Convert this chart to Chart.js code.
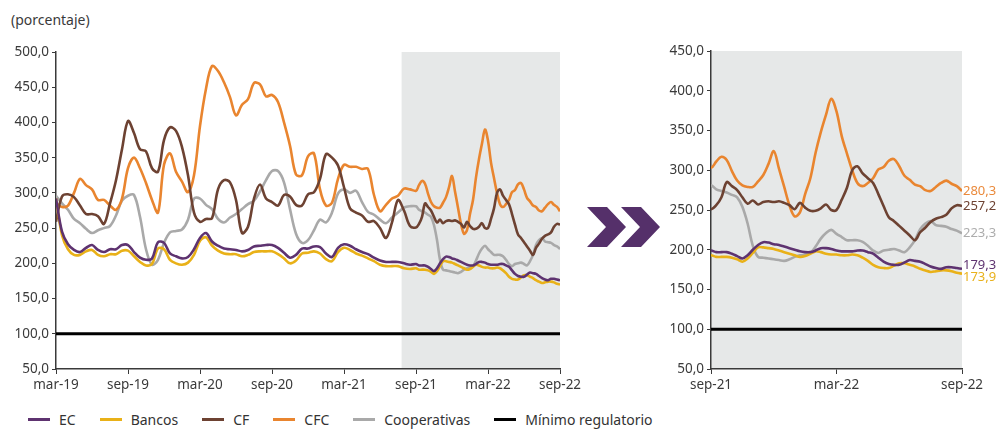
<!DOCTYPE html>
<html>
<head>
<meta charset="utf-8">
<script src="https://cdn.jsdelivr.net/npm/chart.js@4"></script>
<style>
  body { margin:0; width:997px; height:429px; background:#fff; position:relative; overflow:hidden; font-family:"Noto Sans", sans-serif; }
  #title { position:absolute; left:11px; top:10px; font-size:14px; color:#3a3a3a; }
  #leftBox { position:absolute; left:0; top:0; width:600px; height:400px; }
  #rightBox { position:absolute; left:650px; top:0; width:347px; height:400px; }
  #arrows { position:absolute; left:580px; top:200px; }
  #legend { position:absolute; left:28px; top:410px; display:flex; align-items:center; font-size:14px; color:#333; }
  .item { display:flex; align-items:center; margin-right:24px; }
  .swatch { width:22px; height:3.5px; margin-right:9px; }
</style>
</head>
<body>
<div id="title">(porcentaje)</div>
<div id="leftBox"><canvas id="leftChart"></canvas></div>
<div id="rightBox"><canvas id="rightChart"></canvas></div>
<svg id="arrows" width="90" height="60">
  <polygon points="7,7 27,7 46,27 27,47 7,47 26,27" fill="#55306a"/>
  <polygon points="41,7 61,7 80,27 61,47 41,47 60,27" fill="#55306a"/>
</svg>
<div id="legend"></div>
<script>
// months since mar-19 (half-monthly until ago-21, quarter-monthly afterwards)
const months = [0,0.5,1,1.5,2,2.5,3,3.5,4,4.5,5,5.5,6,6.5,7,7.5,8,8.5,9,9.5,10,10.5,11,11.5,12,12.5,13,13.5,14,14.5,15,15.5,16,16.5,17,17.5,18,18.5,19,19.5,20,20.5,21,21.5,22,22.5,23,23.5,24,24.5,25,25.5,26,26.5,27,27.5,28,28.5,29,29.5,
30,30.25,30.5,30.75,31,31.25,31.5,31.75,32,32.25,32.5,32.75,33,33.25,33.5,33.75,34,34.25,34.5,34.75,35,35.25,35.5,35.75,36,36.25,36.5,36.75,37,37.25,37.5,37.75,38,38.25,38.5,38.75,39,39.25,39.5,39.75,40,40.25,40.5,40.75,41,41.25,41.5,41.75,42];

const xTickLabelsLeft = ['mar-19','sep-19','mar-20','sep-20','mar-21','sep-21','mar-22','sep-22'];
const xTickLabelsRight = ['sep-21','mar-22','sep-22'];

const ec = [292,245,227,219,216,222,226,219,216,220,220,226,226,216,208,205,207,230,229,214,210,207,209,220,236,243,231,225,221,220,219,217,219,224,225,226,226,222,215,208,212,221,221,224,223,214,209,222,227,225,220,216,213,208,204,202,202,202,200,198,
199,197,197,197,195,192,189,193,200,206,209.5,209,207,206,204,202,200,198,197,197,199,202,202,201,199,198,198,198,199,199,197,195,190,185,182,181,181,184,187,186,185,182,179,177,176,178,178,177,176];

const bancos = [292,240,220,212,212,217,219,212,210,213,213,218,218,210,202,197,199,221,220,205,200,198,201,212,232,237,225,218,214,213,213,210,212,216,217,217,217,213,207,200,204,214,215,217,214,206,203,216,222,219,214,211,207,203,198,196,196,196,193,192,
193,191,191,191,190,188,185,189,196,203,203,202,201,199,197,195,193,191,192,195,198,197,195,194,194,193,193,194,193,190,186,181,178,177,177,180,183,183,181,179,176,174,172,173,174,174,173,171,170];

const cf = [259,295,298,294,282,270,270,267,256,285,318,362,402,385,362,359,335,330,375,393,388,365,325,272,259,263,264,305,318,315,290,243,252,292,312,292,287,282,297,295,283,282,298,301,320,355,350,339,308,278,272,268,259,260,250,236,258,290,275,253,
251,256,266,285,280,275,266,258,262,257,260,261,260,261,259,256,251,259,253,249,249,252,257,250,250,263,278,300,305,296,290,284,270,255,241,236,230,224,218,212,222,228,235,239,241,244,252,256,255];

const cfc = [285,280,282,300,320,311,305,290,290,282,276,292,335,350,335,314,290,272,340,356,330,316,301,325,395,448,480,473,457,436,410,425,433,456,454,437,439,429,400,367,326,325,352,356,305,282,286,320,340,337,337,334,334,297,274,283,292,296,306,305,
303,311,317,313,299,287,281,279,279,286,294,308,324,302,279,256,242,247,270,290,322,348,370,390,374,343,321,300,284,280,284,290,301,304,312,314,305,293,288,282,280,275,274,279,284,287,283,280,274];

const cooperativas = [296,285,276,263,257,249,243,247,250,253,268,289,296,297,266,220,198,205,229,244,246,248,262,292,292,283,277,263,258,265,270,277,284,289,302,318,331,331,315,277,242,229,233,247,262,258,272,299,305,300,303,287,273,269,262,257,265,272,279,281,
281,276,274,272,269,266,254,233,205,191,190,189,188,187,186,188,191,193,194,196,204,214,221,225,220,216,212,212,212,210,205,199,196,199,200,201,199,197,203,212,226,233,236,231,230,229,226,224,220.5];

const minimoRegulatorio = 100;
const seriesNames = ['EC','Bancos','CF','CFC','Cooperativas','Mínimo regulatorio'];
const endLabels = ['179,3','173,9','257,2','280,3','223,3'];
const shadeStartMonth = 28.8;

const colors = ['#5e3370','#e9b118','#6d4232','#e9852f','#a9a9a9','#000000'];
const labelColors = ['#5e3370','#e9b11c','#6d4232','#ea8a3c','#adadad'];
const seriesValues = [ec, bancos, cf, cfc, cooperativas];

function makeDatasets(xMin, xMax) {
  const ds = seriesValues.map((vals, i) => ({
    label: seriesNames[i],
    data: months.map((m, j) => ({x: m, y: vals[j]})),
    borderColor: colors[i],
    borderWidth: 2.6,
    pointRadius: 0,
    tension: 0.35,
    fill: false
  }));
  ds.push({
    label: seriesNames[5],
    data: [{x: xMin, y: minimoRegulatorio}, {x: xMax, y: minimoRegulatorio}],
    borderColor: colors[5],
    borderWidth: 3,
    pointRadius: 0,
    tension: 0,
    fill: false
  });
  return ds;
}

const fmt = v => v.toFixed(1).replace('.', ',');
const tickFont = {family: '"Noto Sans", sans-serif', size: 13.5};
const axisColor = '#3a3a3a';

const shadePlugin = {
  id: 'shade',
  beforeDraw(chart, args, opts) {
    const {ctx, chartArea, scales} = chart;
    const x0 = Math.max(scales.x.getPixelForValue(opts.from), chartArea.left);
    ctx.save();
    ctx.fillStyle = '#e6e8e8';
    ctx.fillRect(x0, chartArea.top, chartArea.right - x0, chartArea.bottom - chartArea.top);
    ctx.restore();
  }
};

const endLabelPlugin = {
  id: 'endLabels',
  afterDatasetsDraw(chart) {
    const {ctx, chartArea, scales} = chart;
    const items = seriesValues.map((vals, i) => ({
      y: scales.y.getPixelForValue(vals[vals.length - 1]),
      text: endLabels[i],
      color: labelColors[i]
    }));
    items.sort((a, b) => a.y - b.y);
    for (let k = 1; k < items.length; k++) {
      const gap = items[k].y - items[k - 1].y;
      if (gap < 12) { const d = (12 - gap) / 2; items[k - 1].y -= d; items[k].y += d; }
    }
    ctx.save();
    ctx.font = '13px "Noto Sans", sans-serif';
    ctx.textAlign = 'left';
    ctx.textBaseline = 'middle';
    items.forEach(it => { ctx.fillStyle = it.color; ctx.fillText(it.text, chartArea.right + 1, it.y); });
    ctx.restore();
  }
};

function makeOptions(xMin, xMax, yMax, labels, yWidth, padRight, padTop) {
  return {
    responsive: true,
    maintainAspectRatio: false,
    animation: false,
    layout: {padding: {top: padTop, right: padRight, left: 0, bottom: 0}},
    plugins: {legend: {display: false}, tooltip: {enabled: false}, shade: {from: xMin === 0 ? shadeStartMonth : xMin}},
    scales: {
      x: {
        type: 'linear', min: xMin, max: xMax,
        afterFit: s => { s.height = 31; },
        ticks: {stepSize: 6, color: '#3a3a3a', font: tickFont, padding: 3, maxRotation: 0,
          callback: v => labels[Math.round((v - xMin) / 6)]},
        grid: {display: true, drawOnChartArea: false, drawTicks: true, tickLength: 5, color: axisColor},
        border: {display: true, color: axisColor, width: 1.5}
      },
      y: {
        min: 50, max: yMax,
        afterFit: s => { s.width = yWidth; },
        ticks: {stepSize: 50, color: '#3a3a3a', font: tickFont, padding: 3, callback: v => fmt(v)},
        grid: {display: true, drawOnChartArea: false, drawTicks: true, tickLength: 4, color: axisColor},
        border: {display: true, color: axisColor, width: 1.5}
      }
    }
  };
}

new Chart(document.getElementById('leftChart'), {
  type: 'line',
  data: {datasets: makeDatasets(0, 42)},
  options: makeOptions(0, 42, 500, xTickLabelsLeft, 56, 40, 52),
  plugins: [shadePlugin]
});

new Chart(document.getElementById('rightChart'), {
  type: 'line',
  data: {datasets: makeDatasets(30, 42)},
  options: makeOptions(30, 42, 450, xTickLabelsRight, 61, 35, 51),
  plugins: [shadePlugin, endLabelPlugin]
});

// legend
const legend = document.getElementById('legend');
seriesNames.forEach((name, i) => {
  const item = document.createElement('div');
  item.className = 'item';
  const sw = document.createElement('span');
  sw.className = 'swatch';
  sw.style.background = colors[i];
  const tx = document.createElement('span');
  tx.textContent = name;
  item.appendChild(sw); item.appendChild(tx);
  legend.appendChild(item);
});
</script>
</body>
</html>
